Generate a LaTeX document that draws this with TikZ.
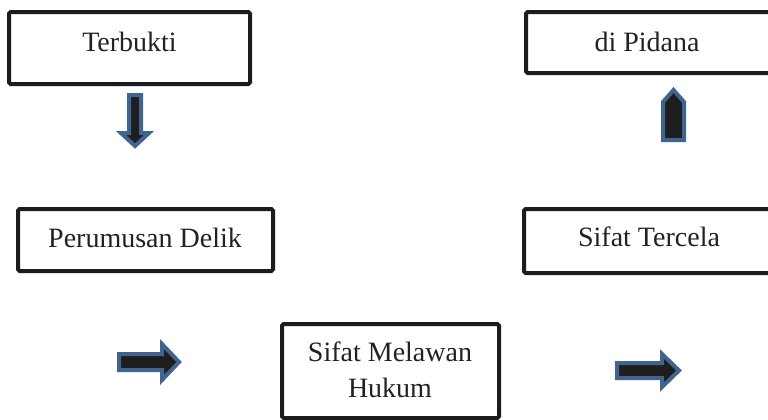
\documentclass[tikz,border=0pt]{standalone}
\usepackage{fontspec}
\setmainfont{Liberation Serif}
\definecolor{arrblue}{HTML}{41648F}
\definecolor{arrfill}{HTML}{1E1E1E}
\definecolor{boxline}{HTML}{1C1C1C}
\definecolor{txt}{HTML}{222222}
\tikzset{
  box/.style={draw=boxline, line width=3pt, rounded corners=1.2pt, rectangle, inner sep=0pt},
  lbl/.style={text=txt, font=\fontsize{21}{27}\selectfont, align=center, inner sep=0pt},
  blockarrow/.style={draw=arrblue, fill=arrfill, line width=3pt, line join=miter}
}
\begin{document}
\begin{tikzpicture}[x=0.75pt, y=-0.75pt]
\clip (0,0) rectangle (768,419);
\fill[white] (0,0) rectangle (768,419);
% boxes
\node[box, minimum width=180.75pt, minimum height=54pt] (terbukti) at (129.5,48) {};
\node[lbl] (tterbukti) at (129.5,42) {Terbukti};
\node[box, minimum width=184.5pt, minimum height=45.75pt] (pidana) at (649,42.5) {};
\node[lbl] (tpidana) at (647,42) {di Pidana};
\node[box, minimum width=191.25pt, minimum height=46.5pt] (delik) at (145.5,240) {};
\node[lbl] (tdelik) at (145,238) {Perumusan Delik};
\node[box, minimum width=187.5pt, minimum height=48pt] (tercela) at (649,241) {};
\node[lbl] (ttercela) at (649,237) {Sifat Tercela};
\node[box, minimum width=162.75pt, minimum height=70.5pt] (melawan) at (390.5,371) {};
\node[lbl] (tmelawan) at (390,370) {Sifat Melawan\\Hukum};
% block arrows
\draw[blockarrow] (129,95) -- (141,95) -- (141,133) -- (149,133) -- (135,146) -- (121,133) -- (129,133) -- cycle;
\draw[blockarrow] (663,140) -- (684,140) -- (684,102) -- (673.5,90) -- (663,102) -- cycle;
\draw[blockarrow] (119,354) -- (162,354) -- (162,344) -- (179,362) -- (162,380) -- (162,370) -- (119,370) -- cycle;
\draw[blockarrow] (617,363) -- (662,363) -- (662,354) -- (679,370.5) -- (662,387) -- (662,378) -- (617,378) -- cycle;
\end{tikzpicture}
\end{document}
